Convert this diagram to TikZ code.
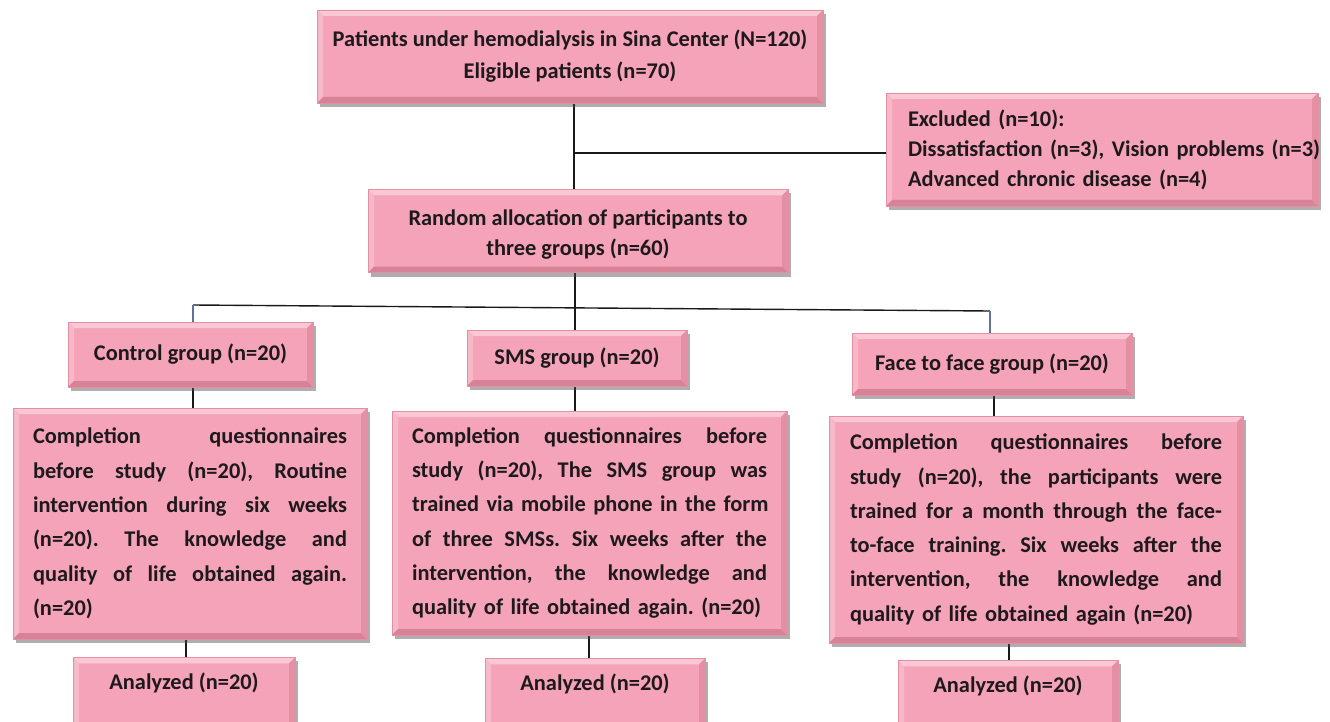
\documentclass[tikz,border=0pt]{standalone}
\usepackage{fontspec}
\setmainfont{Carlito}
\frenchspacing
\usetikzlibrary{shadows,calc,backgrounds}
\definecolor{pinkfill}{RGB}{244,163,184}
\definecolor{pinklt}{RGB}{249,200,212}
\definecolor{pinkmd}{RGB}{247,184,199}
\definecolor{pinkdk}{RGB}{216,130,151}
\definecolor{pinkdk2}{RGB}{228,143,163}
\definecolor{txt}{RGB}{30,25,28}
\definecolor{lnk}{RGB}{25,25,25}
\definecolor{lnkb}{RGB}{95,115,160}
\newcommand\jl[2]{\makebox[#1][s]{#2}}
\newcommand\gap{ \hfill}
\tikzset{
  box/.style={fill=pinkfill, draw=pinkdk2, line width=0.6pt,
    drop shadow={shadow xshift=3pt, shadow yshift=-4pt, opacity=0.45, fill=black!70},
    text=txt, font=\fontsize{22.4}{30}\selectfont\bfseries, inner sep=0pt,
    path picture={
      \fill[pinklt] (path picture bounding box.north west) -- (path picture bounding box.north east)
        -- ($(path picture bounding box.north east)+(-6,6)$) -- ($(path picture bounding box.north west)+(6,6)$) -- cycle;
      \fill[pinkmd] (path picture bounding box.north west) -- (path picture bounding box.south west)
        -- ($(path picture bounding box.south west)+(6,-6)$) -- ($(path picture bounding box.north west)+(6,6)$) -- cycle;
      \fill[pinkdk] (path picture bounding box.south west) -- (path picture bounding box.south east)
        -- ($(path picture bounding box.south east)+(-6,-6)$) -- ($(path picture bounding box.south west)+(6,-6)$) -- cycle;
      \fill[pinkdk2] (path picture bounding box.north east) -- (path picture bounding box.south east)
        -- ($(path picture bounding box.south east)+(-6,-6)$) -- ($(path picture bounding box.north east)+(-6,6)$) -- cycle;
    }},
  comp/.style={box, font=\fontsize{22.4}{34.3}\selectfont\bfseries, align=left},
  anl/.style={box, anchor=north, text height=14pt, text depth=30pt, inner ysep=18pt},
  conn/.style={draw=lnk, line width=1.4pt},
  connb/.style={draw=lnkb, line width=1.4pt}
}
\begin{document}
\begin{tikzpicture}[x=1pt,y=-1pt]
\useasboundingbox (0,0) rectangle (1330,722);
\clip (0,0) rectangle (1330,722);

\node[box, minimum width=506, minimum height=93, align=center, font=\fontsize{22.4}{32}\selectfont\bfseries] (top) at (570,56.5)
  {Patients under hemodialysis in Sina Center (N=120)\\Eligible patients (n=70)};
\node[box, minimum width=432, minimum height=113, text width=388, inner xsep=22, align=left] (excl) at (1102,149.5)
  {Excluded (n=10):\\\mbox{Dissatisfaction (n=3), Vision problems (n=3)}\\Advanced chronic disease (n=4)};
\node[box, minimum width=420, minimum height=83, align=center] (rand) at (578,231)
  {\rule{0pt}{23pt}Random allocation of participants to\\three groups (n=60)};

\node[box, minimum width=245, minimum height=65] (ctrl) at (190.5,354.5) {Control group (n=20)};
\node[box, minimum width=220, minimum height=56] (sms) at (577,358) {SMS group (n=20)};
\node[box, minimum width=280, minimum height=62] (face) at (992,364) {Face to face group (n=20)};

\node[comp, minimum width=354, minimum height=231, text width=314, inner xsep=20] (c1) at (190,523.5)
  {\jl{314pt}{Completion\gap questionnaires}\\
   \jl{314pt}{before\gap study\gap (n=20),\gap Routine}\\
   \jl{314pt}{intervention\gap during\gap six\gap weeks}\\
   \jl{314pt}{(n=20).\gap The\gap knowledge\gap and}\\
   \jl{314pt}{quality\gap of\gap life\gap obtained\gap again.}\\
   (n=20)};
\node[comp, minimum width=395, minimum height=224, text width=355, inner xsep=20] (c2) at (589.5,523)
  {\jl{355pt}{Completion\gap questionnaires\gap before}\\
   \jl{355pt}{study\gap (n=20),\gap The\gap SMS\gap group\gap was}\\
   \jl{355pt}{trained\gap via\gap mobile\gap phone\gap in\gap the\gap form}\\
   \jl{355pt}{of\gap three\gap SMSs.\gap Six\gap weeks\gap after\gap the}\\
   \jl{355pt}{intervention,\gap the\gap knowledge\gap and}\\
   quality of life obtained again. (n=20)};
\node[comp, minimum width=414, minimum height=227, text width=372, inner xsep=21] (c3) at (1036,529.5)
  {\jl{372pt}{Completion\gap questionnaires\gap before}\\
   \jl{372pt}{study\gap (n=20),\gap the\gap participants\gap were}\\
   \jl{372pt}{trained\gap for\gap a\gap month\gap through\gap the\gap face-}\\
   \jl{372pt}{to-face\gap training.\gap Six\gap weeks\gap after\gap the}\\
   \jl{372pt}{intervention,\gap the\gap knowledge\gap and}\\
   quality of life obtained again (n=20)};

\node[anl, minimum width=222] (a1) at (184,657) {Analyzed (n=20)};
\node[anl, minimum width=220] (a2) at (595,658) {Analyzed (n=20)};
\node[anl, minimum width=220] (a3) at (1008,660) {Analyzed (n=20)};

\begin{scope}[on background layer]
\coordinate (j1) at (574,153);
\draw[conn] (top.south -| j1) -- (rand.north -| j1);
\draw[conn] (j1) -- (excl.west |- j1);
\coordinate (j2) at (575,307);
\coordinate (jl) at (193,305);
\coordinate (jr) at (990,311);
\draw[conn] (rand.south -| j2) -- (j2);
\draw[conn] (jl) -- (jr);
\draw[connb] (jl) -- (ctrl.north -| jl);
\draw[conn] (j2) -- (sms.north -| j2);
\draw[connb] (jr) -- (face.north -| jr);
\coordinate (g1) at (193,0);
\coordinate (g3) at (994,0);
\draw[conn] (ctrl.south -| g1) -- (c1.north -| g1);
\draw[conn] (sms.south -| j2) -- (c2.north -| j2);
\draw[conn] (face.south -| g3) -- (c3.north -| g3);
\coordinate (h1) at (186,0);
\coordinate (h2) at (589,0);
\coordinate (h3) at (1009,0);
\draw[conn] (c1.south -| h1) -- (a1.north -| h1);
\draw[conn] (c2.south -| h2) -- (a2.north -| h2);
\draw[conn] (c3.south -| h3) -- (a3.north -| h3);
\end{scope}
\end{tikzpicture}
\end{document}
